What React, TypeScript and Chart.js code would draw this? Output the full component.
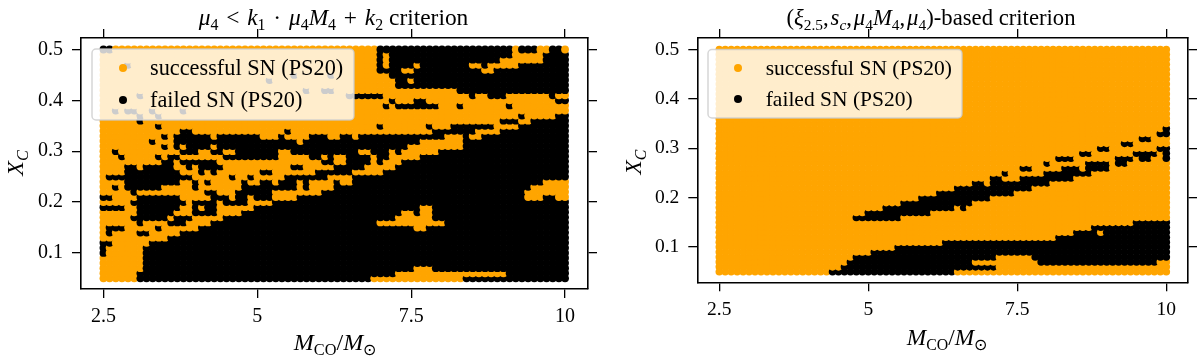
import React, { useEffect, useRef } from "react";
import { Chart, registerables } from "chart.js";

Chart.register(...registerables);

const massCO = [2.5,2.6,2.7,2.8,2.9,3.0,3.1,3.2,3.3,3.4,3.5,3.6,3.7,3.8,3.9,4.0,4.1,4.2,4.3,4.4,4.5,4.6,4.7,4.8,4.9,5.0,5.1,5.2,5.3,5.4,5.5,5.6,5.7,5.8,5.9,6.0,6.1,6.2,6.3,6.4,6.5,6.6,6.7,6.8,6.9,7.0,7.1,7.2,7.3,7.4,7.5,7.6,7.7,7.8,7.9,8.0,8.1,8.2,8.3,8.4,8.5,8.6,8.7,8.8,8.9,9.0,9.1,9.2,9.3,9.4,9.5,9.6,9.7,9.8,9.9,10.0];
const carbonFraction = [0.05,0.06,0.07,0.08,0.09,0.10,0.11,0.12,0.13,0.14,0.15,0.16,0.17,0.18,0.19,0.20,0.21,0.22,0.23,0.24,0.25,0.26,0.27,0.28,0.29,0.30,0.31,0.32,0.33,0.34,0.35,0.36,0.37,0.38,0.39,0.40,0.41,0.42,0.43,0.44,0.45,0.46,0.47,0.48,0.49,0.50];

// failed-SN column ranges [first, last] of massCO for each carbonFraction row
const leftFailedRuns: number[][][] = [
  [[6,43],[59,75]],
  [[6,47],[66,75]],
  [[7,50],[54,75]],
  [[7,75]],
  [[7,75]],
  [[0,0],[7,75]],
  [[0,0],[7,75]],
  [[0,1],[8,75]],
  [[11,75]],
  [[1,1],[6,7],[13,75]],
  [[1,3],[9,9],[16,50],[53,75]],
  [[6,6],[11,13],[18,44],[56,75]],
  [[5,10],[12,14],[20,47],[54,75]],
  [[6,11],[15,18],[23,48],[51,51],[54,75]],
  [[0,3],[6,12],[15,15],[17,18],[25,51],[54,75]],
  [[5,13],[15,18],[20,23],[28,75]],
  [[0,1],[6,12],[18,20],[22,23],[25,27],[32,68],[72,73]],
  [[5,5],[17,18],[22,27],[36,68]],
  [[2,2],[4,9],[15,15],[23,31],[33,33],[38,69]],
  [[4,12],[15,15],[17,17],[23,23],[26,27],[29,31],[33,33],[38,38],[41,71]],
  [[1,14],[21,21],[24,24],[30,36],[41,75]],
  [[4,12],[16,16],[18,18],[26,27],[35,40],[46,75]],
  [[4,5],[7,11],[14,14],[16,19],[31,32],[38,42],[48,75]],
  [[10,11],[13,18],[36,37],[40,43],[45,45],[49,75]],
  [[3,3],[9,9],[11,12],[20,28],[34,35],[37,37],[40,43],[45,46],[52,75]],
  [[2,2],[13,15],[18,19],[22,28],[31,41],[44,46],[48,48],[55,75]],
  [[10,10],[12,12],[14,17],[19,49],[59,75]],
  [[8,8],[12,31],[33,51],[59,75]],
  [[10,10],[12,17],[19,25],[29,29],[34,36],[39,40],[42,55],[59,59],[62,75]],
  [[13,14],[30,30],[54,60],[65,75]],
  [[9,9],[45,45],[53,53],[57,63],[68,75]],
  [[6,6],[65,67],[70,75]],
  [[6,6],[9,9],[68,68],[74,75]],
  [[2,2],[4,5],[8,8],[13,13]],
  [[46,46],[48,54],[58,58],[66,66]],
  [[47,47],[51,52],[74,75]],
  [[6,6],[40,45],[60,60],[63,65],[73,73]],
  [[33,33],[36,37],[58,75]],
  [[48,75]],
  [[27,27],[48,49],[51,75]],
  [[31,31],[37,37],[47,75]],
  [[45,48],[51,61],[64,75]],
  [[4,4],[45,45],[47,50],[52,59],[62,62],[68,75]],
  [[45,45],[47,64],[72,75]],
  [[45,45],[47,66],[72,75]],
  [[0,1],[45,66],[68,70],[73,74]],
];

const rightFailedRuns: number[][][] = [
  [[19,39]],
  [[21,46]],
  [[22,42],[54,73]],
  [[23,46],[53,75]],
  [[26,75]],
  [[30,75]],
  [[38,75]],
  [[57,75]],
  [[60,63],[65,75]],
  [[63,75]],
  [[70,75]],
  [[23,30]],
  [[25,35]],
  [[28,39],[41,41]],
  [[31,42]],
  [[34,45]],
  [[37,49]],
  [[40,52]],
  [[43,44],[46,55]],
  [[46,47],[51,59]],
  [[48,48],[55,62]],
  [[51,52],[58,60],[62,65]],
  [[55,55],[62,65],[67,68]],
  [[57,59],[67,69],[71,72],[75,75]],
  [[61,62],[70,73],[75,75]],
  [[64,65],[74,75]],
  [[68,69]],
  [[71,72]],
  [[74,75]],
  [[75,75]],
];

const seriesLabels = ["successful SN (PS20)", "failed SN (PS20)"];
const seriesColors = ["#ffa500", "#000000"];
const xTickValues = [2.5, 5, 7.5, 10];
const yTickValues = [0.1, 0.2, 0.3, 0.4, 0.5];

type Run = { t: string; i?: boolean; sub?: boolean };

const leftTitle: Run[] = [
  { t: "μ", i: true }, { t: "4", sub: true }, { t: " \u200A<\u200A " }, { t: "k", i: true }, { t: "1", sub: true },
  { t: " \u200A·\u200A " }, { t: "μ", i: true }, { t: "4", sub: true }, { t: "M", i: true }, { t: "4", sub: true },
  { t: " \u200A+\u200A " }, { t: "k", i: true }, { t: "2", sub: true }, { t: " criterion" },
];
const rightTitle: Run[] = [
  { t: "(" }, { t: "ξ", i: true }, { t: "2.5", sub: true }, { t: ",\u200A" }, { t: "s", i: true }, { t: "c", i: true, sub: true },
  { t: ",\u200A" }, { t: "μ", i: true }, { t: "4", sub: true }, { t: "M", i: true }, { t: "4", sub: true }, { t: ",\u200A" },
  { t: "μ", i: true }, { t: "4", sub: true }, { t: ")-based criterion" },
];
const xLabel: Run[] = [
  { t: "M", i: true }, { t: "CO", sub: true }, { t: "/" }, { t: "M", i: true }, { t: "⊙", sub: true },
];
const yLabel: Run[] = [{ t: "X", i: true }, { t: "C", i: true, sub: true }];

const FONT = '"Liberation Serif", serif';

function setFont(ctx: CanvasRenderingContext2D, r: Run, size: number) {
  const s = r.sub ? size * 0.68 : size;
  ctx.font = `${r.i ? "italic " : ""}${s}px ${FONT}`;
}

function drawRuns(ctx: CanvasRenderingContext2D, runs: Run[], cx: number, cy: number, size: number, rot = 0) {
  ctx.save();
  ctx.translate(cx, cy);
  ctx.rotate(rot);
  ctx.fillStyle = "#000";
  ctx.textAlign = "left";
  ctx.textBaseline = "alphabetic";
  let total = 0;
  for (const r of runs) {
    setFont(ctx, r, size);
    total += ctx.measureText(r.t).width;
  }
  let x = -total / 2;
  for (const r of runs) {
    setFont(ctx, r, size);
    ctx.fillText(r.t, x, r.sub ? size * 0.22 : 0);
    x += ctx.measureText(r.t).width;
  }
  ctx.restore();
}

type Panel = {
  left: number;
  width: number;
  area: { l: number; r: number; t: number; b: number };
  xRange: [number, number];
  yRange: [number, number];
  runs: number[][][];
  title: Run[];
  titleX: number;
  xLabelX: number;
  xLabelY: number;
  yLabelX: number;
  yLabelY: number;
  tickSize: number;
  titleSize: number;
  legendSize: number;
  labelSize: number;
  dot: number;
  legend: { x: number; y: number; w: number; h: number; mx: number; tx: number; y1: number; y2: number };
};

const panels: Panel[] = [
  {
    left: 0, width: 600,
    area: { l: 81, r: 588, t: 38, b: 289 },
    xRange: [2.135, 10.373], yRange: [0.029, 0.5226],
    runs: leftFailedRuns, title: leftTitle, titleX: 333.5,
    xLabelX: 335, xLabelY: 350, yLabelX: 23, yLabelY: 163,
    tickSize: 20, titleSize: 23.4, legendSize: 22.3, labelSize: 24, dot: 3.92,
    legend: { x: 92, y: 49, w: 262, h: 71, mx: 123, tx: 150, y1: 68, y2: 100 },
  },
  {
    left: 600, width: 600,
    area: { l: 97.3, r: 588, t: 38, b: 282.3 },
    xRange: [2.131, 10.364], yRange: [0.0287, 0.5232],
    runs: rightFailedRuns, title: rightTitle, titleX: 331,
    xLabelX: 347, xLabelY: 345, yLabelX: 41, yLabelY: 162,
    tickSize: 19.5, titleSize: 22.7, legendSize: 21.5, labelSize: 23.3, dot: 3.8,
    legend: { x: 108, y: 49.5, w: 254, h: 68.5, mx: 138, tx: 165.7, y1: 68, y2: 99 },
  },
];

function PanelChart({ p }: { p: Panel }) {
  const ref = useRef<HTMLCanvasElement>(null);
  useEffect(() => {
    const points: { x: number; y: number }[] = [];
    const colors: string[] = [];
    carbonFraction.forEach((y, r) => {
      const runs = p.runs[r] || [];
      massCO.forEach((x, c) => {
        const failed = runs.some(([a, b]) => c >= a && c <= b);
        points.push({ x, y });
        colors.push(failed ? seriesColors[1] : seriesColors[0]);
      });
    });

    const axisFont = { family: FONT, size: p.tickSize };
    const grid = { color: "#000", lineWidth: 1.3, drawOnChartArea: false, drawTicks: true, tickLength: 9 };
    const border = { display: true, color: "#000", width: 1.6 };

    const annotate = {
      id: "annotate",
      afterDatasetsDraw(chart: any) {
        const ctx: CanvasRenderingContext2D = chart.ctx;
        const L = p.legend;
        ctx.save();
        ctx.beginPath();
        ctx.roundRect(L.x, L.y, L.w, L.h, 4);
        ctx.fillStyle = "rgba(255,255,255,0.8)";
        ctx.fill();
        ctx.lineWidth = 1.5;
        ctx.strokeStyle = "rgba(204,204,204,0.8)";
        ctx.stroke();
        seriesLabels.forEach((label, i) => {
          const y = i === 0 ? L.y1 : L.y2;
          ctx.beginPath();
          ctx.arc(L.mx, y, 4, 0, Math.PI * 2);
          ctx.fillStyle = seriesColors[i];
          ctx.fill();
          ctx.fillStyle = "#000";
          ctx.font = `${p.legendSize}px ${FONT}`;
          ctx.textAlign = "left";
          ctx.textBaseline = "alphabetic";
          ctx.fillText(label, L.tx, y + 6.5);
        });
        ctx.restore();
        drawRuns(ctx, p.title, p.titleX, 25, p.titleSize);
        drawRuns(ctx, xLabel, p.xLabelX, p.xLabelY, p.labelSize);
        drawRuns(ctx, yLabel, p.yLabelX, p.yLabelY, p.labelSize, -Math.PI / 2);
      },
    };

    const setTicks = (vals: number[]) => (scale: any) => {
      scale.ticks = vals.map((value) => ({ value }));
    };
    const W = p.width;
    const H = 363;

    const chart = new Chart(ref.current as HTMLCanvasElement, {
      type: "scatter",
      data: {
        datasets: [
          {
            label: seriesLabels.join(" / "),
            data: points,
            backgroundColor: colors,
            borderWidth: 0,
            pointRadius: p.dot,
            pointHoverRadius: p.dot,
          } as any,
        ],
      },
      options: {
        animation: false,
        responsive: false,
        devicePixelRatio: 1,
        layout: { padding: 0 },
        plugins: { legend: { display: false }, tooltip: { enabled: false }, title: { display: false } },
        scales: {
          x: {
            type: "linear", position: "bottom",
            min: p.xRange[0], max: p.xRange[1],
            afterBuildTicks: setTicks(xTickValues),
            afterFit: (s: any) => { s.height = H - p.area.b; },
            grid, border,
            ticks: { color: "#000", font: axisFont, padding: 6.5, maxRotation: 0, autoSkip: false, callback: (v: any) => String(v) },
          },
          xTop: {
            type: "linear", axis: "x", position: "top",
            min: p.xRange[0], max: p.xRange[1],
            afterBuildTicks: setTicks(xTickValues),
            afterFit: (s: any) => { s.height = p.area.t; },
            grid, border,
            ticks: { display: false },
          },
          y: {
            type: "linear", position: "left",
            min: p.yRange[0], max: p.yRange[1],
            afterBuildTicks: setTicks(yTickValues),
            afterFit: (s: any) => { s.width = p.area.l; },
            grid, border,
            ticks: { color: "#000", font: axisFont, padding: 9, autoSkip: false, callback: (v: any) => Number(v).toFixed(1) },
          },
          yRight: {
            type: "linear", axis: "y", position: "right",
            min: p.yRange[0], max: p.yRange[1],
            afterBuildTicks: setTicks(yTickValues),
            afterFit: (s: any) => { s.width = W - p.area.r; },
            grid, border,
            ticks: { display: false },
          },
        } as any,
      },
      plugins: [annotate],
    } as any);
    return () => chart.destroy();
  }, [p]);
  return (
    <canvas
      ref={ref}
      width={p.width}
      height={363}
      style={{ position: "absolute", left: p.left, top: 0, width: p.width, height: 363, display: "block" }}
    />
  );
}

export default function App() {
  return (
    <div style={{ position: "fixed", left: 0, top: 0, width: 1200, height: 363, background: "#fff", overflow: "hidden" }}>
      {panels.map((p) => (
        <PanelChart key={p.left} p={p} />
      ))}
    </div>
  );
}
